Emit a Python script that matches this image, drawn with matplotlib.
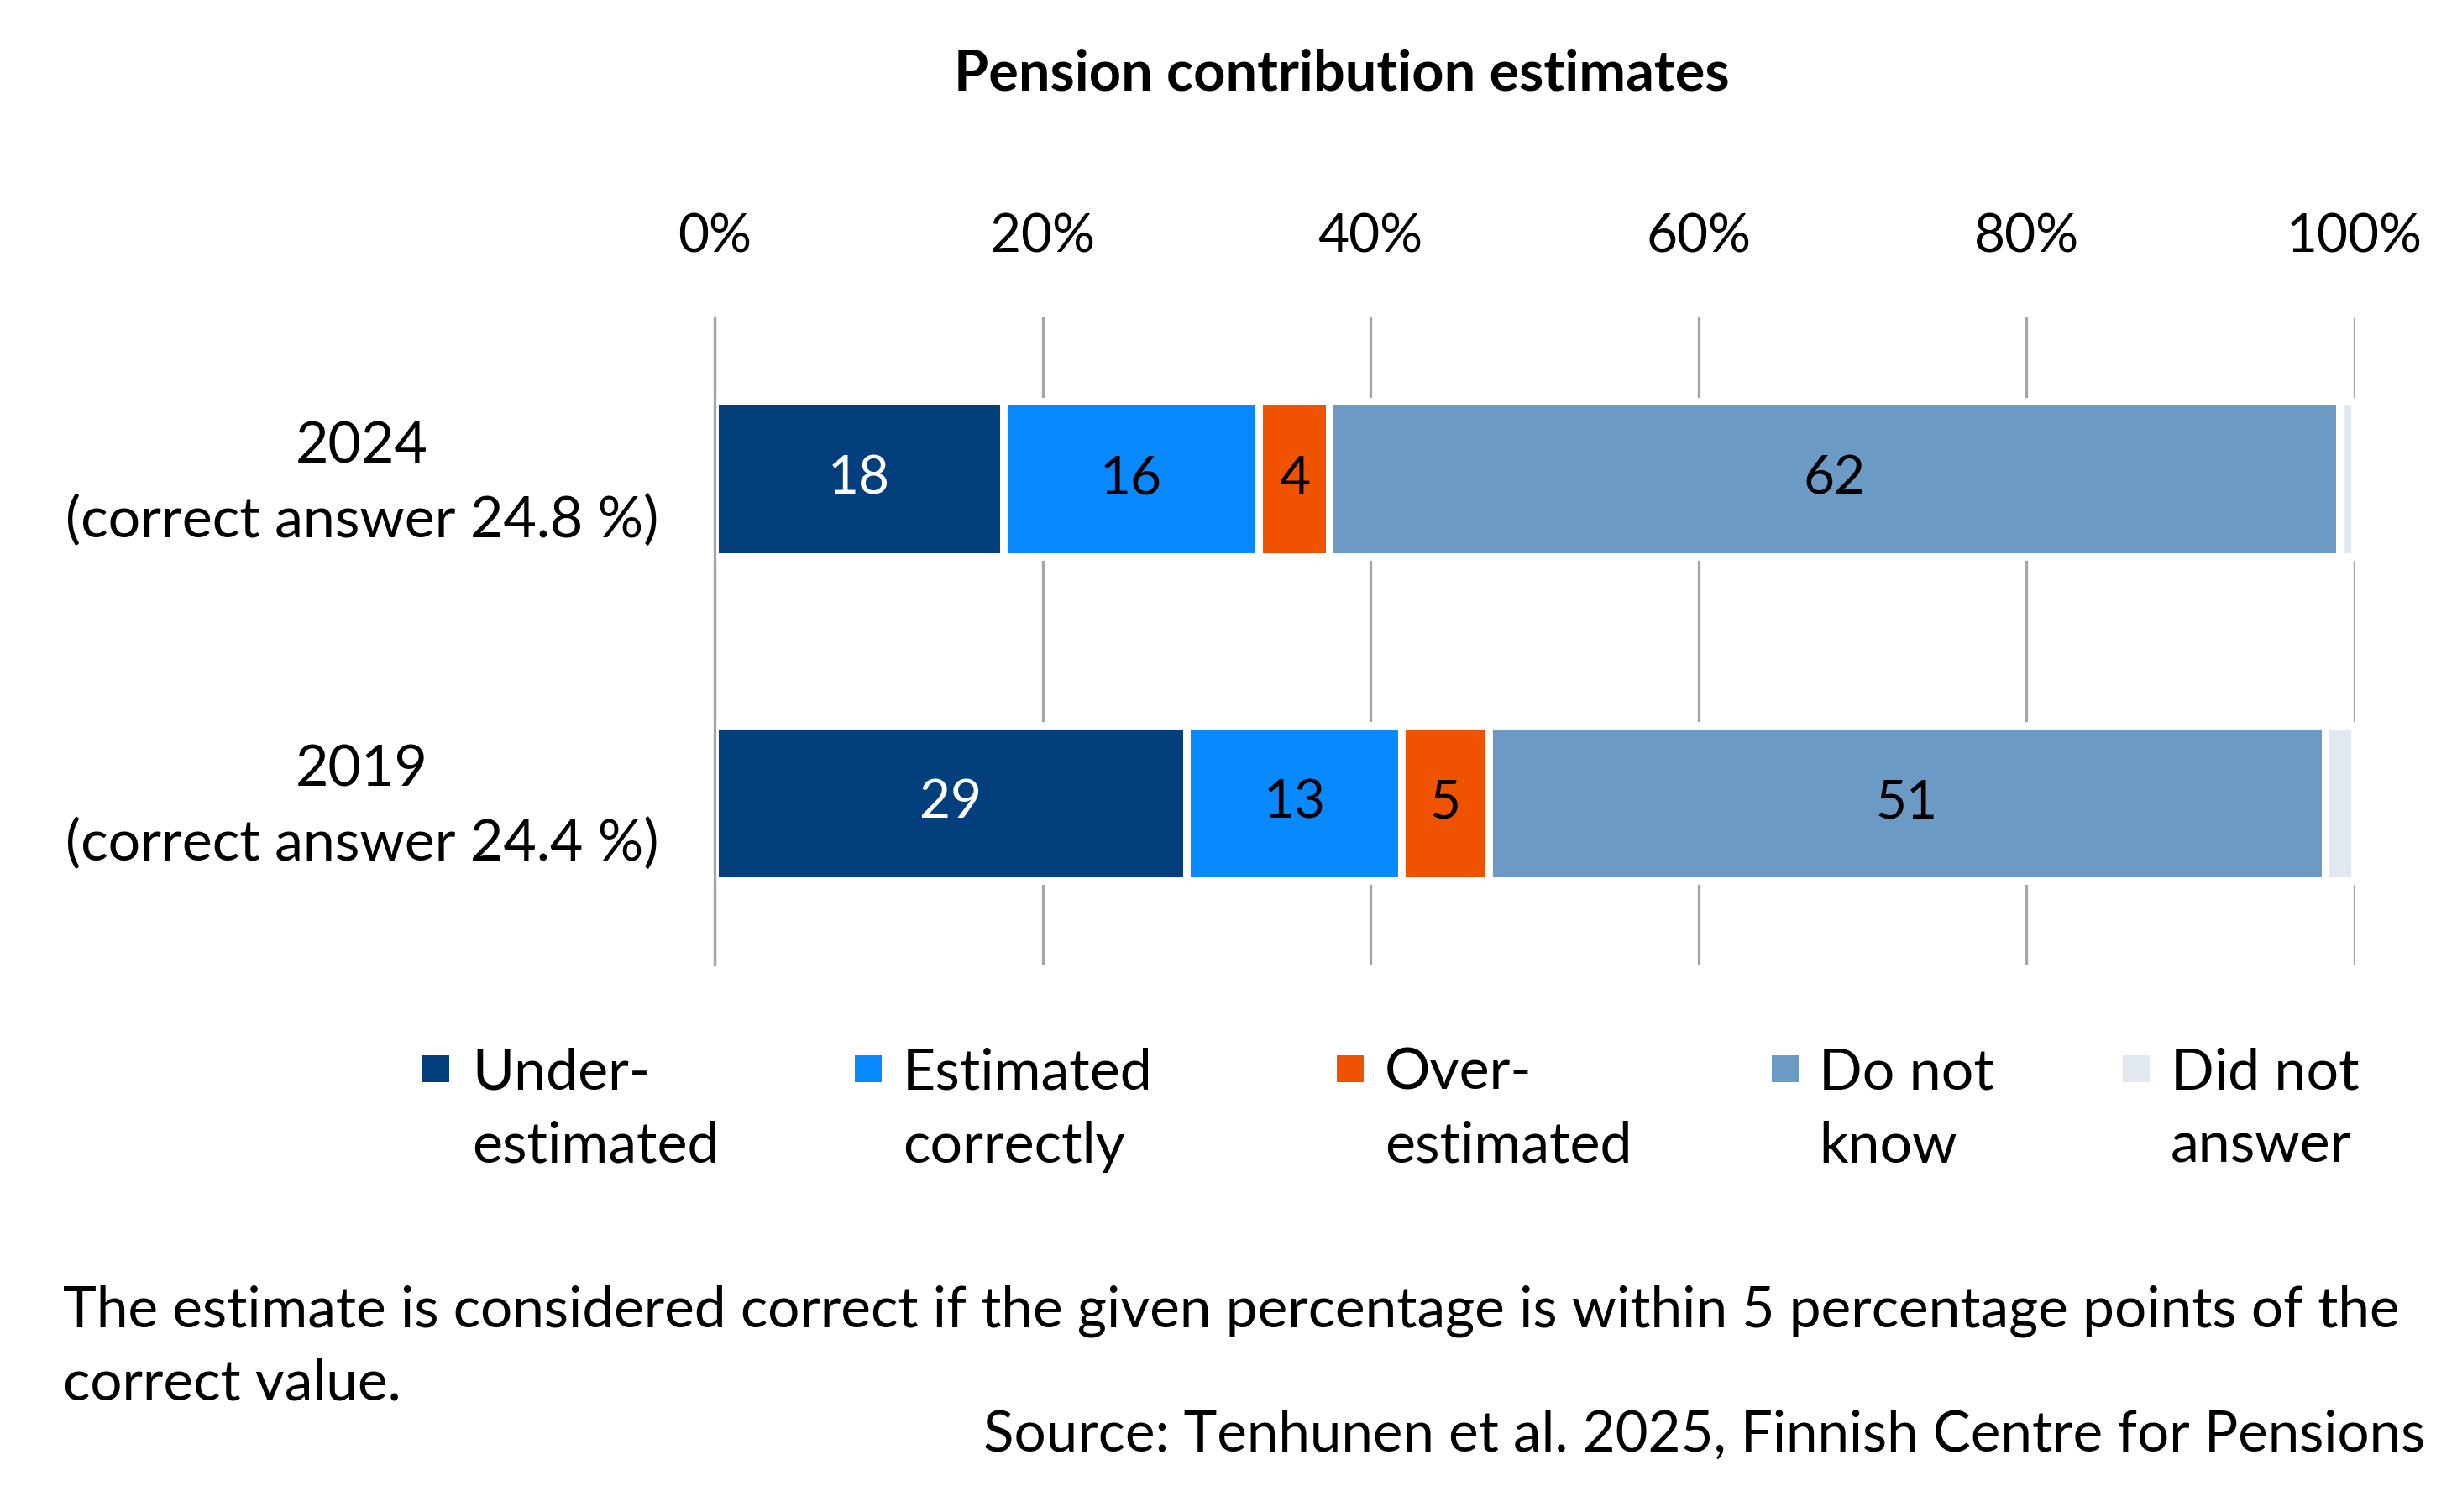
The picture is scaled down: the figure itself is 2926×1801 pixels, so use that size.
import matplotlib.pyplot as plt
from matplotlib.patches import Rectangle
import matplotlib.transforms as mtransforms
import numpy as np

plt.rcParams['font.family'] = ['Lato', 'DejaVu Sans']

years = ["2024\n(correct answer 24.8 %)", "2019\n(correct answer 24.4 %)"]
categories = ["Under-\nestimated", "Estimated\ncorrectly", "Over-\nestimated", "Do not\nknow", "Did not\nanswer"]
under = [17.6, 28.8]
correct = [15.6, 13.1]
over = [4.3, 5.3]
dont_know = [61.6, 51.0]
no_answer = [0.9, 1.8]

colors = ["#043F7D", "#0889FE", "#F05300", "#6B9AC4", "#E1E8F0"]
text_colors = ["white", "black", "black", "black", None]

fig = plt.figure(figsize=(14.63, 9.005), dpi=200)
ax = fig.add_axes([0.2908, 0.362, 0.6675, 0.428])

y = np.arange(len(years))
series = [under, correct, over, dont_know, no_answer]
left = np.zeros(len(years))
for vals, col, tcol, name in zip(series, colors, text_colors, categories):
    bars = ax.barh(y, vals, 0.48, left=left, color=col, edgecolor="white",
                   linewidth=3.2, label=name, zorder=3)
    if tcol:
        ax.bar_label(bars, labels=[f"{v:.0f}" for v in vals], label_type="center",
                     color=tcol, fontsize=23)
    left += np.array(vals)

ax.set_xlim(0, 100)
ax.set_ylim(1.5, -0.5)
ax.set_xticks(np.arange(0, 101, 20))
ax.set_xticklabels([f"{t}%" for t in range(0, 101, 20)])
ax.xaxis.tick_top()
ax.set_yticks(y)
ax.set_yticklabels(years, multialignment="center", linespacing=1.5)
ax.tick_params(axis="x", length=0, pad=24, labelsize=23)
ax.tick_params(axis="y", length=0, pad=24, labelsize=24.5)
shift = mtransforms.ScaledTranslation(0, 0.065, fig.dpi_scale_trans)
for lab in ax.get_yticklabels():
    lab.set_transform(lab.get_transform() + shift)
ax.grid(axis="x", color="#A6A6A6", linewidth=1.2, zorder=1)
for s in ["top", "right", "bottom"]:
    ax.spines[s].set_visible(False)
ax.spines["left"].set_color("#A6A6A6")
ax.spines["left"].set_linewidth(1.2)
ax.spines["left"].set_zorder(4)

fig.text(0.546, 0.951, "Pension contribution estimates", ha="center", va="center",
         fontsize=24, fontweight="bold")

# legend, built by hand so the swatch sits on the first text line
marker_x = [0.1719, 0.3479, 0.5441, 0.7211, 0.8640]
text_x = [0.1921, 0.3674, 0.5636, 0.7403, 0.8834]
for mx, tx, col, name in zip(marker_x, text_x, colors, categories):
    fig.add_artist(Rectangle((mx, 0.2843), 0.0109, 0.0178, facecolor=col,
                             edgecolor="none", transform=fig.transFigure))
    fig.text(tx, 0.231, name, ha="left", va="baseline", fontsize=24.5, linespacing=1.5)

fig.text(0.0256, 0.074, "The estimate is considered correct if the given percentage is within 5 percentage points of the\ncorrect value.",
         ha="left", va="baseline", fontsize=24.3, linespacing=1.5)
fig.text(0.987, 0.040, "Source: Tenhunen et al. 2025, Finnish Centre for Pensions",
         ha="right", va="baseline", fontsize=24.2)

fig.savefig("out.png", dpi=200)
